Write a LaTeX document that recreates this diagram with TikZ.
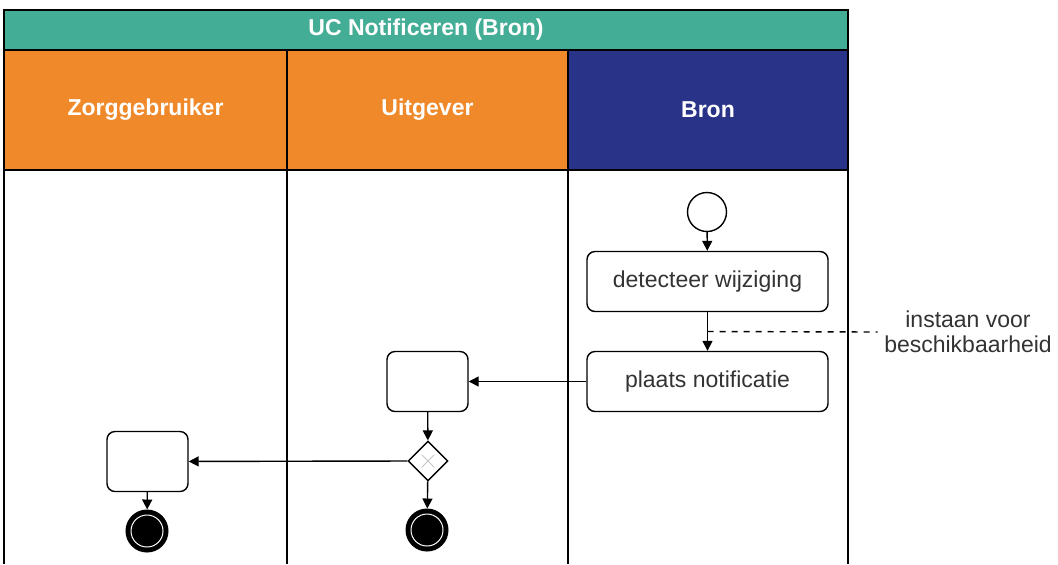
\documentclass[tikz,border=0pt]{standalone}
\usepackage{fontspec}
\setmainfont{Liberation Sans}
\usetikzlibrary{arrows.meta,shapes.geometric}
\definecolor{ucteal}{RGB}{68,173,150}
\definecolor{laneorange}{RGB}{239,137,42}
\definecolor{laneblue}{RGB}{41,52,136}
\definecolor{txtgray}{RGB}{51,51,51}
\begin{document}
\begin{tikzpicture}[x=0.5pt,y=-0.5pt,line width=0.7pt,
    head node/.style={rectangle,draw,inner sep=0pt,text=white,font=\fontsize{11.5}{12.5}\selectfont\bfseries},
    task node/.style={rectangle,draw,rounded corners=4pt,fill=white,inner sep=0pt,minimum height=30pt,text=txtgray,font=\fontsize{11.5}{12.5}\selectfont},
    start node/.style={circle,draw,fill=white,inner sep=0pt,minimum size=19.5pt},
    end node/.style={circle,draw,fill=black,line width=1.5pt,inner sep=0pt,minimum size=20pt},
    gate node/.style={diamond,draw,fill=white,inner sep=0pt,minimum width=20pt,minimum height=20pt},
    flow/.style={-{Triangle[length=5pt,width=5pt]}}]
        \useasboundingbox (0,0) rectangle (1058,564);

        % pool and lanes
        \node[head node, fill=ucteal, minimum width=422pt, minimum height=20pt] at (426,30) (pool) {UC Notificeren (Bron)};
        \node[head node, fill=laneorange, minimum width=141.5pt, minimum height=60pt] at (145.5,110) (zorg) {Zorggebruiker};
        \node[head node, fill=laneorange, minimum width=140.5pt, minimum height=60pt] at (427.5,110) (uitg) {Uitgever};
        \node[head node, fill=laneblue, minimum width=140pt, minimum height=60pt] at (708,110) (bron) {Bron};
        \draw (4,170) -- (4,564) (287,170) -- (287,564) (568,170) -- (568,564) (848,170) -- (848,564);

        % Bron
        \node[start node] at (707,212) (start) {};
        \node[task node, minimum width=120.5pt] at (707.5,281.5) (detect) {detecteer wijziging};
        \node[task node, minimum width=120.5pt] at (707.5,381.5) (plaats) {plaats notificatie};
        \node[align=center, text=txtgray, inner sep=3pt, font=\fontsize{11.5}{12.5}\selectfont] at (968,332) (note) {instaan voor\\beschikbaarheid};

        % Uitgever
        \node[task node, minimum width=40.5pt] at (427.5,381.5) (taskU) {};
        \node[gate node] at (428,461) (gate) {};
        \draw[gray!45, line width=0.5pt] (gate.center) +(-6,-6) -- +(6,6) (gate.center) +(-6,6) -- +(6,-6);
        \node[end node] at (427,530) (endU) {};
        \draw[white, line width=0.5pt] (endU.center) circle[radius=16];

        % Zorggebruiker
        \node[task node, minimum width=40.5pt] at (147.5,461.5) (taskZ) {};
        \node[end node] at (147,531) (endZ) {};
        \draw[white, line width=0.5pt] (endZ.center) circle[radius=16];

        \path[flow]
            (start) edge (detect)
            (detect) edge coordinate[pos=0.5] (mid) (plaats)
            (plaats) edge (taskU)
            (taskU) edge (gate)
            (gate.west) edge (taskZ)
            (gate) edge (endU)
            (taskZ) edge (endZ)
            ;
        \draw[dashed] (mid) -- (note.west);
\end{tikzpicture}
\end{document}
